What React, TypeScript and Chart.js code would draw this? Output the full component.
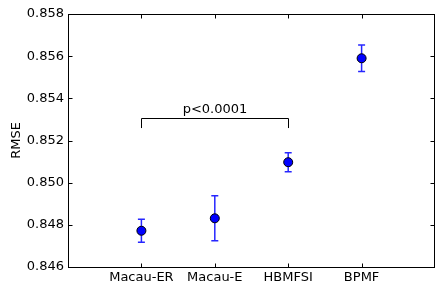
import React, { useEffect, useRef } from "react";
import { Chart, registerables } from "chart.js";

Chart.register(...registerables);

const categories = ["Macau-ER", "Macau-E", "HBMFSI", "BPMF"];
const rmseValues = [0.84772, 0.84831, 0.85097, 0.8559];
const rmseErrors = [0.00055, 0.00107, 0.00045, 0.00063];
const yMin = 0.846;
const yMax = 0.858;
const yStep = 0.002;
const bracketFrom = 0; // index of Macau-ER
const bracketTo = 2; // index of HBMFSI
const bracketTop = 0.85306;
const bracketLeg = 0.85259;
const bracketLabel = "p<0.0001";

const FONT = "DejaVu Sans";

export default function App() {
  const ref = useRef<HTMLCanvasElement>(null);

  useEffect(() => {
    const canvas = ref.current;
    if (!canvas) return;

    const decorations = {
      id: "decorations",
      beforeDatasetsDraw(chart: any) {
        const ctx = chart.ctx;
        const x = chart.scales.x;
        const y = chart.scales.y;
        ctx.save();
        // error bars
        ctx.strokeStyle = "rgba(0,0,255,0.85)";
        ctx.lineWidth = 1.5;
        rmseValues.forEach((v, i) => {
          const px = x.getPixelForValue(i + 1);
          const top = y.getPixelForValue(v + rmseErrors[i]);
          const bot = y.getPixelForValue(v - rmseErrors[i]);
          ctx.beginPath();
          ctx.moveTo(px, top);
          ctx.lineTo(px, bot);
          ctx.moveTo(px - 3.5, top);
          ctx.lineTo(px + 3.5, top);
          ctx.moveTo(px - 3.5, bot);
          ctx.lineTo(px + 3.5, bot);
          ctx.stroke();
        });
        // bracket
        const bx1 = Math.round(x.getPixelForValue(bracketFrom + 1)) + 0.5;
        const bx2 = Math.round(x.getPixelForValue(bracketTo + 1)) + 0.5;
        const by = Math.round(y.getPixelForValue(bracketTop)) + 0.5;
        const bl = y.getPixelForValue(bracketLeg);
        ctx.strokeStyle = "#000";
        ctx.lineWidth = 1;
        ctx.beginPath();
        ctx.moveTo(bx1, bl);
        ctx.lineTo(bx1, by);
        ctx.lineTo(bx2, by);
        ctx.lineTo(bx2, bl);
        ctx.stroke();
        ctx.fillStyle = "#000";
        ctx.font = `13px "${FONT}"`;
        ctx.textAlign = "center";
        ctx.textBaseline = "alphabetic";
        ctx.fillText(bracketLabel, (bx1 + bx2) / 2, by - 6);
        ctx.restore();
      },
      afterDraw(chart: any) {
        const ctx = chart.ctx;
        const a = chart.chartArea;
        const x = chart.scales.x;
        const y = chart.scales.y;
        ctx.save();
        ctx.strokeStyle = "#000";
        ctx.lineWidth = 1;
        const L = Math.round(a.left) + 0.5;
        const R = Math.round(a.right) - 0.5;
        const T = Math.round(a.top) + 0.5;
        const B = Math.round(a.bottom) + 0.5;
        ctx.strokeRect(L, T, R - L, B - T);
        const tl = 4;
        ctx.beginPath();
        for (let v = yMin; v <= yMax + 1e-9; v += yStep) {
          const py = Math.round(y.getPixelForValue(v)) + 0.5;
          ctx.moveTo(L, py);
          ctx.lineTo(L + tl, py);
          ctx.moveTo(R, py);
          ctx.lineTo(R - tl, py);
        }
        categories.forEach((_, i) => {
          const px = Math.round(x.getPixelForValue(i + 1)) + 0.5;
          ctx.moveTo(px, B);
          ctx.lineTo(px, B - tl);
          ctx.moveTo(px, T);
          ctx.lineTo(px, T + tl);
        });
        ctx.stroke();
        ctx.restore();
      },
    };

    const chart = new Chart(canvas, {
      type: "scatter",
      data: {
        datasets: [
          {
            data: rmseValues.map((v, i) => ({ x: i + 1, y: v })),
            backgroundColor: "#0000ff",
            borderColor: "#000000",
            borderWidth: 1,
            pointRadius: 4.5,
            pointHoverRadius: 4.5,
          },
        ],
      },
      options: {
        responsive: false,
        animation: false,
        events: [],
        layout: { autoPadding: false, padding: { top: 14, right: -1, left: 0, bottom: 0 } },
        plugins: {
          legend: { display: false },
          tooltip: { enabled: false },
        },
        scales: {
          x: {
            type: "linear",
            min: 0,
            max: categories.length + 1,
            grid: { display: false, drawTicks: false },
            border: { display: false },
            afterBuildTicks: (scale: any) => {
              scale.ticks = categories.map((_, i) => ({ value: i + 1 }));
            },
            afterFit: (scale: any) => {
              scale.height = 16;
              scale.paddingLeft = 0;
              scale.paddingRight = 0;
            },
            ticks: {
              autoSkip: false,
              maxRotation: 0,
              padding: 3,
              color: "#000",
              font: { family: FONT, size: 13 },
              callback: (v: any) => categories[Number(v) - 1] ?? "",
            },
          },
          y: {
            min: yMin,
            max: yMax,
            grid: { display: false, drawTicks: false },
            border: { display: false },
            afterFit: (scale: any) => {
              scale.width = 68;
              scale.paddingTop = 0;
              scale.paddingBottom = 0;
            },
            ticks: {
              stepSize: yStep,
              padding: 4,
              color: "#000",
              font: { family: FONT, size: 13 },
              callback: (v: any) => Number(v).toFixed(3),
            },
            title: {
              display: true,
              text: "RMSE",
              color: "#000",
              font: { family: FONT, size: 13 },
              padding: { top: 9, bottom: 0 },
            },
          },
        },
      },
      plugins: [decorations],
    } as any);

    return () => chart.destroy();
  }, []);

  return (
    <div style={{ position: "fixed", left: 0, top: 0, width: 435, height: 283, background: "#fff" }}>
      <canvas ref={ref} width={435} height={283} style={{ display: "block" }} />
    </div>
  );
}
